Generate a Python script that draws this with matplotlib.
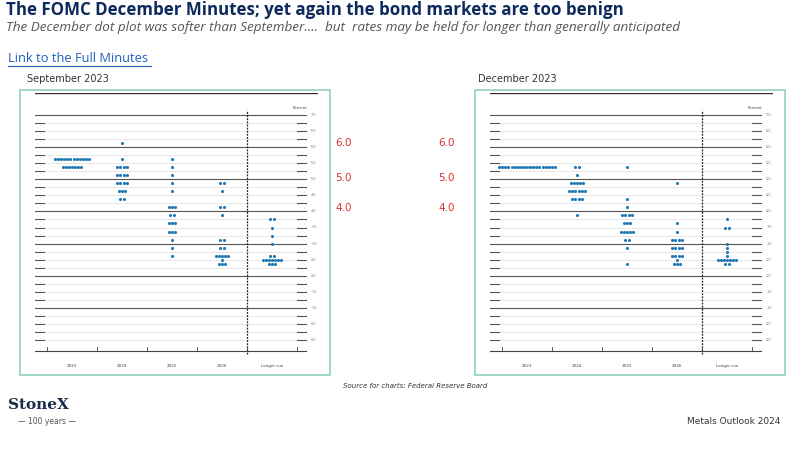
import matplotlib.pyplot as plt
from matplotlib.patches import Rectangle

columns = ["2023", "2024", "2025", "2026", "Longer run"]
# (rate, count) per column
sep_dots = [
    [(5.625, 12), (5.375, 7)],
    [(6.125, 1), (5.625, 1), (5.375, 4), (5.125, 4), (4.875, 4), (4.625, 3), (4.375, 2)],
    [(5.625, 1), (5.375, 1), (5.125, 1), (4.875, 1), (4.625, 1), (4.125, 3), (3.875, 2),
     (3.625, 3), (3.375, 3), (3.125, 1), (2.875, 1), (2.625, 1)],
    [(4.875, 2), (4.625, 1), (4.125, 2), (3.875, 1), (3.125, 2), (2.875, 2), (2.625, 5),
     (2.5, 1), (2.375, 3)],
    [(3.75, 2), (3.5, 1), (3.25, 1), (3.0, 1), (2.625, 2), (2.5, 7), (2.375, 3)],
]
dec_dots = [
    [(5.375, 19)],
    [(5.375, 2), (5.125, 1), (4.875, 5), (4.625, 6), (4.375, 4), (3.875, 1)],
    [(5.375, 1), (4.375, 1), (4.125, 1), (3.875, 4), (3.625, 3), (3.375, 5), (3.125, 2),
     (2.875, 1), (2.375, 1)],
    [(4.875, 1), (3.625, 1), (3.375, 1), (3.125, 4), (2.875, 4), (2.625, 4), (2.5, 1),
     (2.375, 3)],
    [(3.75, 1), (3.5, 2), (3.0, 1), (2.875, 1), (2.75, 1), (2.625, 1), (2.5, 7), (2.375, 2)],
]
ytick_vals = [0.0, 0.5, 1.0, 1.5, 2.0, 2.5, 3.0, 3.5, 4.0, 4.5, 5.0, 5.5, 6.0, 6.5, 7.0]
red_labels = ["6.0", "5.0", "4.0"]

W, H = 800, 450
fig = plt.figure(figsize=(8, 4.5), dpi=100)
fig.patch.set_facecolor("white")

def fx(p): return p / W
def fy(p): return 1 - p / H

fig.text(fx(6), fy(10), "The FOMC December Minutes; yet again the bond markets are too benign",
         fontsize=12.2, fontweight="bold", color="#0d2a5c", va="center", family="Open Sans")
fig.text(fx(6), fy(28), "The December dot plot was softer than September….  but  rates may be held for longer than generally anticipated",
         fontsize=9.7, style="italic", color="#555555", va="center", family="Open Sans")
fig.text(fx(8), fy(58), "Link to the Full Minutes", fontsize=9.3, color="#1f5fbf", va="center",
         family="Open Sans")
fig.add_artist(plt.Line2D([fx(8), fx(151)], [fy(66), fy(66)], color="#1f5fbf", lw=0.8))
fig.text(fx(27), fy(79), "September 2023", fontsize=7, color="#333333", va="center")
fig.text(fx(478), fy(79), "December 2023", fontsize=7, color="#333333", va="center")

for i, lab in enumerate(red_labels):
    for xx in (335, 438):
        fig.text(fx(xx), fy([143, 178, 208][i]), lab, fontsize=7.5, color="#d93030", va="center")

fig.text(fx(415), fy(386), "Source for charts: Federal Reserve Board", fontsize=5, style="italic",
         color="#333333", ha="center", va="center")
fig.text(fx(8), fy(405), "StoneX", fontsize=11, fontweight="bold", color="#1a2b4a", va="center",
         family="DejaVu Serif")
fig.text(fx(18), fy(421), "— 100 years —", fontsize=5.5, color="#555555", va="center")
fig.text(fx(780), fy(421), "Metals Outlook 2024", fontsize=6.5, color="#333333", ha="right", va="center")

def panel(left, dots):
    fig.add_artist(Rectangle((fx(left), fy(375)), 310 / W, 285 / H, transform=fig.transFigure,
                             fill=False, edgecolor="#8fd1c0", lw=1.2))
    ax = fig.add_axes([fx(left + 15), fy(355), 283 / W, (355 - 93) / H])
    ax.set_xlim(0, 283)
    ppu = 225 / 7
    ax.set_ylim(7 - (355 - 115) / ppu, 7 + (115 - 93) / ppu)
    ax.axis("off")
    ax.axhline(ax.get_ylim()[1], xmin=0, xmax=1, color="#333333", lw=1)
    for k in range(29):
        y = k * 0.25
        if y == int(y) and y > 0:
            ax.plot([0, 271], [y, y], color="#555555", lw=0.8)
        else:
            ax.plot([10, 261], [y, y], color="#cccccc", lw=0.5, ls=(0, (2, 1)))
            ax.plot([0, 9], [y, y], color="#555555", lw=0.8)
            ax.plot([262, 271], [y, y], color="#555555", lw=0.8)
    for v in ytick_vals:
        ax.text(279, v, f"{v:.1f}", fontsize=2.5, color="#777777", va="center", ha="center")
    ax.text(265, 7.22, "Percent", fontsize=2.8, color="#444444", ha="center", va="center")
    ax.plot([212, 212], [-0.45, 7.15], color="#222222", lw=0.9, ls=(0, (1.5, 1)))
    ybase = -0.35
    ax.plot([0, 271], [ybase, ybase], color="#444444", lw=0.8)
    for x in [12, 62, 112, 162, 212, 262]:
        ax.plot([x, x], [ybase, ybase + 0.12], color="#444444", lw=0.6)
    colx = [37, 87, 137, 187, 237]
    for cx, lab in zip(colx, columns):
        ax.text(cx, ybase - 0.45, lab, fontsize=3, color="#444444", ha="center", va="center",
                clip_on=False)
    for cx, col in zip(colx, dots):
        for rate, n in col:
            xs = [cx + (j - (n - 1) / 2) * 3.1 for j in range(n)]
            ax.scatter(xs, [rate] * n, s=5, color="#1f77b4", linewidths=0, zorder=3)

panel(20, sep_dots)
panel(475, dec_dots)

fig.savefig("out.png", dpi=100)
